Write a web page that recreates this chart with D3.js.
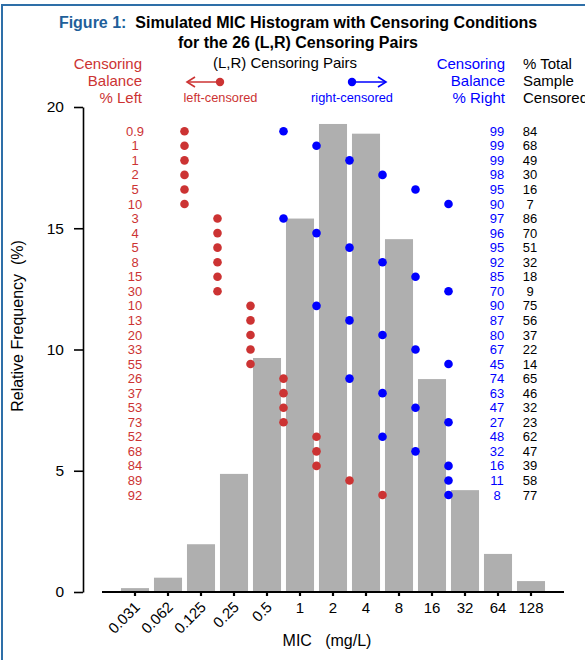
<!DOCTYPE html>
<html lang="en">
<head>
  <meta charset="UTF-8" />
  <title>Simulated MIC Histogram with Censoring Conditions</title>
  <script src="https://cdnjs.cloudflare.com/ajax/libs/d3/7.8.4/d3.min.js"></script>
  <style>
    body {
      margin: 0;
      padding: 0;
      background: #fff;
      overflow: hidden;
      font-family: "Liberation Sans", Arial, sans-serif;
    }
    svg text { white-space: pre; }
    .axis text { font-family: "Liberation Sans", Arial, sans-serif; fill: #000; }
    .axis line, .axis path { stroke: #000; }
  </style>
</head>
<body>
  <svg width="585" height="660"></svg>
  <script>
    // MIC bins and histogram (% of isolates)
    const bins = ["0.031", "0.062", "0.125", "0.25", "0.5", "1", "2", "4", "8", "16", "32", "64", "128"];
    const freq = [0.16, 0.59, 1.97, 4.87, 9.65, 15.4, 19.3, 18.9, 14.55, 8.78, 4.2, 1.57, 0.45];

    // 26 (L,R) censoring pairs: left cut sits just above leftCut bin, right cut just above rightCut bin
    const leftCut = ["0.062", "0.062", "0.062", "0.062", "0.062", "0.062",
                     "0.125", "0.125", "0.125", "0.125", "0.125", "0.125",
                     "0.25", "0.25", "0.25", "0.25", "0.25",
                     "0.5", "0.5", "0.5", "0.5",
                     "1", "1", "1",
                     "2",
                     "4"];
    const rightCut = ["0.5", "1", "2", "4", "8", "16",
                      "0.5", "1", "2", "4", "8", "16",
                      "1", "2", "4", "8", "16",
                      "2", "4", "8", "16",
                      "4", "8", "16",
                      "16",
                      "16"];
    const pctLeft = ["0.9", "1", "1", "2", "5", "10", "3", "4", "5", "8", "15", "30", "10", "13", "20", "33", "55",
                     "26", "37", "53", "73", "52", "68", "84", "89", "92"];
    const pctRight = [99, 99, 99, 98, 95, 90, 97, 96, 95, 92, 85, 70, 90, 87, 80, 67, 45, 74, 63, 47, 27, 48, 32, 16, 11, 8];
    const pctTotal = [84, 68, 49, 30, 16, 7, 86, 70, 51, 32, 18, 9, 75, 56, 37, 22, 14, 65, 46, 32, 23, 62, 47, 39, 58, 77];

    const yTicks = [0, 5, 10, 15, 20];

    const red = "#cc3333";
    const blue = "#0000ff";

    const svg = d3.select("svg");

    // frame
    svg.append("rect")
      .attr("x", 2).attr("y", 5)
      .attr("width", 640).attr("height", 700)
      .attr("fill", "none")
      .attr("stroke", "#2e6fa8")
      .attr("stroke-width", 2);

    const x = d3.scaleBand().domain(bins).range([118.5, 547.5])
      .paddingInner(0.15).paddingOuter(0.075);
    const y = d3.scaleLinear().domain([0, 20]).range([592, 107]);
    const gap = x.step() - x.bandwidth();
    const cutX = b => x(b) + x.bandwidth() + gap / 2;
    const rowY = d3.scalePoint().domain(d3.range(pctRight.length)).range([y(19), y(4)]);

    // bars
    svg.append("g").selectAll("rect")
      .data(bins)
      .enter()
      .append("rect")
      .attr("x", d => x(d))
      .attr("width", x.bandwidth())
      .attr("y", (d, i) => y(freq[i]))
      .attr("height", (d, i) => y(0) - y(freq[i]))
      .attr("fill", "#afafaf");

    // y axis
    const yAxis = svg.append("g")
      .attr("class", "axis")
      .attr("transform", "translate(83,0)")
      .call(d3.axisLeft(y).tickValues(yTicks).tickSize(9).tickSizeOuter(0).tickPadding(10));
    yAxis.select(".domain").attr("stroke-width", 1.6);
    yAxis.selectAll(".tick line").attr("stroke-width", 1.6);
    yAxis.selectAll(".tick text").attr("font-size", 15.5);

    // x axis
    const xAxis = svg.append("g")
      .attr("class", "axis")
      .attr("transform", `translate(0,${y(0)})`)
      .call(d3.axisBottom(x).tickSize(4).tickSizeOuter(0).tickPadding(6));
    xAxis.select(".domain").remove();
    xAxis.append("line")
      .attr("x1", x.range()[0] - x.step() / 2).attr("x2", x.range()[1] + x.step() / 2)
      .attr("stroke", "#000").attr("stroke-width", 1.8);
    xAxis.selectAll(".tick line").attr("stroke-width", 2.2);
    xAxis.selectAll(".tick text")
      .attr("font-size", 15)
      .each(function(d, i) {
        if (i < 5) {
          d3.select(this)
            .attr("text-anchor", "end")
            .attr("dy", null)
            .attr("y", 0)
            .attr("transform", "translate(6,16) rotate(-45)");
        }
      });

    // axis titles
    svg.append("text")
      .attr("transform", "translate(23,326) rotate(-90)")
      .attr("text-anchor", "middle")
      .attr("font-size", 16)
      .text("Relative Frequency  (%)");
    svg.append("text")
      .attr("x", 327).attr("y", 646)
      .attr("text-anchor", "middle")
      .attr("font-size", 16)
      .text("MIC   (mg/L)");

    // title
    const t1 = svg.append("text")
      .attr("x", 298).attr("y", 28)
      .attr("text-anchor", "middle")
      .attr("font-size", 16)
      .attr("font-weight", "bold");
    t1.append("tspan").attr("fill", "#1f5f9a").text("Figure 1:");
    t1.append("tspan").attr("fill", "#000").text("  Simulated MIC Histogram with Censoring Conditions");
    svg.append("text")
      .attr("x", 298).attr("y", 48)
      .attr("text-anchor", "middle")
      .attr("font-size", 16)
      .attr("font-weight", "bold")
      .text("for the 26 (L,R) Censoring Pairs");

    // column headers
    const headY = [69, 86, 103];
    function header(lines, xPos, anchor, color) {
      lines.forEach((s, i) => {
        svg.append("text")
          .attr("x", xPos).attr("y", headY[i])
          .attr("text-anchor", anchor)
          .attr("font-size", 15)
          .attr("fill", color)
          .text(s);
      });
    }
    header(["Censoring", "Balance", "% Left"], 142, "end", red);
    header(["Censoring", "Balance", "% Right"], 505, "end", blue);
    header(["% Total", "Sample", "Censored"], 523, "start", "#000");

    svg.append("text")
      .attr("x", 285).attr("y", 68)
      .attr("text-anchor", "middle")
      .attr("font-size", 15)
      .text("(L,R) Censoring Pairs");

    // legend arrows
    function arrow(xDot, xTip, color, label) {
      const g = svg.append("g").attr("stroke", color).attr("stroke-width", 1.6).attr("fill", "none");
      const dir = xTip < xDot ? 1 : -1;
      g.append("line").attr("x1", xDot).attr("x2", xTip).attr("y1", 82).attr("y2", 82);
      g.append("path")
        .attr("d", `M${xTip + dir * 8},${82 - 5}L${xTip},82L${xTip + dir * 8},${82 + 5}`);
      svg.append("circle").attr("cx", xDot).attr("cy", 82).attr("r", 4.2).attr("fill", color);
      svg.append("text")
        .attr("x", (xDot + xTip) / 2 + (dir > 0 ? 17 : -17)).attr("y", 102)
        .attr("text-anchor", "middle")
        .attr("font-size", 12.8)
        .attr("fill", color)
        .text(label);
    }
    arrow(220, 187, red, "left-censored");
    arrow(352, 386, blue, "right-censored");

    // rows of censoring pairs
    const rows = svg.append("g").selectAll("g")
      .data(pctRight)
      .enter()
      .append("g")
      .attr("transform", (d, i) => `translate(0,${rowY(i)})`);

    rows.append("text")
      .attr("x", 135).attr("dy", "0.35em")
      .attr("text-anchor", "middle")
      .attr("font-size", 13)
      .attr("fill", red)
      .text((d, i) => pctLeft[i]);

    rows.append("circle")
      .attr("cx", (d, i) => cutX(leftCut[i]))
      .attr("r", 4.3)
      .attr("fill", red);

    rows.append("circle")
      .attr("cx", (d, i) => cutX(rightCut[i]))
      .attr("r", 4.3)
      .attr("fill", blue);

    rows.append("text")
      .attr("x", 497).attr("dy", "0.35em")
      .attr("text-anchor", "middle")
      .attr("font-size", 13)
      .attr("fill", blue)
      .text(d => d);

    rows.append("text")
      .attr("x", 530).attr("dy", "0.35em")
      .attr("text-anchor", "middle")
      .attr("font-size", 13)
      .attr("fill", "#000")
      .text((d, i) => pctTotal[i]);
  </script>
</body>
</html>
